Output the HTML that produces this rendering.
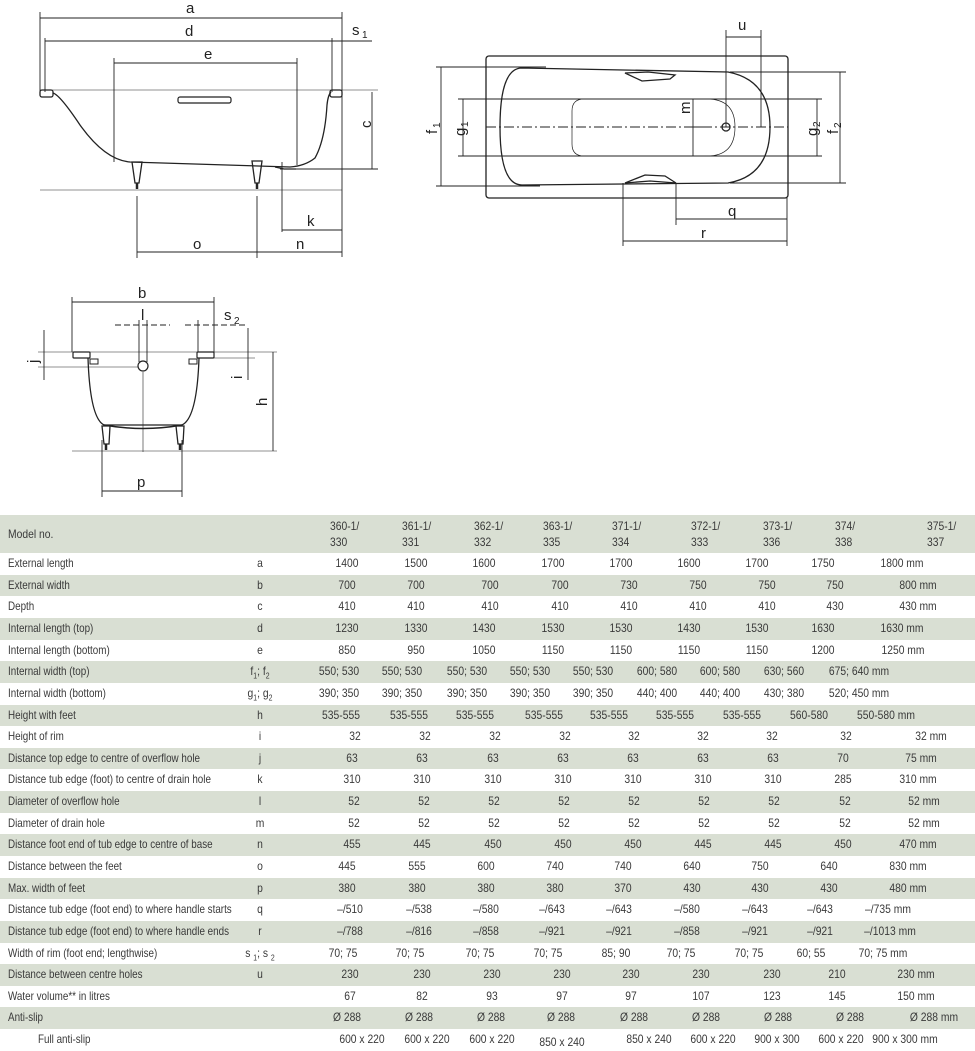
<!DOCTYPE html>
<html><head><meta charset="utf-8">
<style>
body{margin:0;width:975px;height:1048px;background:#fff;position:relative;overflow:hidden;font-family:"Liberation Sans",sans-serif;color:#3a3a3a;}
svg{position:absolute;left:0;top:0}
.r{position:absolute;left:0;width:975px;height:21.64px;font-size:12px;}
.g{background:#d9dfd3;}
.r span{position:absolute;top:3px;white-space:nowrap;transform:translateX(-50%) scaleX(0.86);}
.r .lb{left:8px;transform:scaleX(0.82);transform-origin:0 0;}
.r .lt{left:260px;}
.hd{position:absolute;left:0;top:515px;width:975px;height:38px;background:#d9dfd3;font-size:12px;}
.hd span{position:absolute;white-space:nowrap;line-height:16px;transform:scaleX(0.86);transform-origin:0 0;}
sub{font-size:8px;}
</style></head><body>
<svg width="975" height="515" viewBox="0 0 975 515" font-family="Liberation Sans, sans-serif" fill="none" stroke="#222" stroke-width="0.9">
<g>
<line x1="40" y1="12" x2="40" y2="92"/><line x1="342" y1="12" x2="342" y2="257"/>
<line x1="40" y1="18" x2="342" y2="18"/>
<line x1="45" y1="41" x2="372" y2="41"/>
<line x1="45" y1="38" x2="45" y2="92"/><line x1="332" y1="38" x2="332" y2="92"/>
<line x1="114" y1="63" x2="297" y2="63"/>
<line x1="114" y1="58" x2="114" y2="162"/><line x1="297" y1="58" x2="297" y2="165"/>
<line x1="40" y1="90" x2="378" y2="90" stroke-width="0.6"/>
<rect x="40" y="90" width="13" height="7" rx="2" stroke-width="1.3"/>
<rect x="330" y="90" width="12" height="7" rx="2" stroke-width="1.3"/>
<path d="M53 93 Q60 95 80 125 Q105 160 130 162 L290 167 Q305 166 315 158 Q325 140 327 105 Q328 95 331 92" stroke-width="1.3"/>
<path d="M275 167 L284 169 L296 169" stroke-width="1.2"/>
<rect x="178" y="97" width="53" height="6" rx="2" stroke-width="1.2"/>
<line x1="372" y1="92" x2="372" y2="169"/>
<line x1="280" y1="169" x2="378" y2="169"/>
<line x1="40" y1="190" x2="342" y2="190" stroke-width="0.6"/>
<path d="M132 162 L142 162 L139 183 L135 183 Z M252 161 L262 161 L259 183 L255 183 Z" stroke-width="1.3"/>
<line x1="137" y1="183" x2="137" y2="189" stroke-width="2.5"/><line x1="257" y1="183" x2="257" y2="189" stroke-width="2.5"/>
<line x1="282" y1="162" x2="282" y2="232"/>
<line x1="282" y1="230" x2="342" y2="230"/>
<line x1="137" y1="196" x2="137" y2="258"/><line x1="257" y1="196" x2="257" y2="258"/>
<line x1="137" y1="252" x2="342" y2="252"/>
</g>
<g fill="#222" stroke="none" font-size="15">
<text x="186" y="13">a</text><text x="185" y="36">d</text><text x="204" y="59">e</text>
<text x="352" y="35">s</text><text x="362" y="38" font-size="10">1</text>
<text x="366" y="133" transform="rotate(-90 366 128)">c</text>
<text x="307" y="226">k</text><text x="193" y="249">o</text><text x="296" y="249">n</text>
</g>
<g>
<rect x="486" y="56" width="302" height="142" rx="3" stroke-width="1.3"/>
<path d="M522 68 L728 72 Q770 80 770 127 Q770 176 728 183 L522 185 Q500 185 500 127 Q500 68 522 68 Z" stroke-width="1.3"/>
<path d="M584 99 L707 99 Q735 99 735 127 Q735 156 707 156 L584 156 Q572 156 572 144 L572 111 Q572 99 584 99 Z" stroke-width="0.7"/>
<line x1="486" y1="127" x2="788" y2="127" stroke-dasharray="10 3 2 3"/>
<circle cx="726" cy="127" r="4" stroke-width="1.3"/>
<path d="M625 73 L648 72 L675 75 L670 79 L642 81 Z" stroke-width="1.3"/>
<path d="M625 183 L645 175 L665 176 L676 183 L650 181 Z" stroke-width="1.3"/>
<line x1="436" y1="67" x2="546" y2="67"/><line x1="436" y1="186" x2="540" y2="186"/>
<line x1="441" y1="67" x2="441" y2="186"/>
<line x1="458" y1="99" x2="822" y2="99"/><line x1="458" y1="156" x2="822" y2="156"/>
<line x1="463" y1="99" x2="463" y2="156"/>
<line x1="730" y1="72" x2="846" y2="72"/><line x1="730" y1="183" x2="846" y2="183"/>
<line x1="840" y1="72" x2="840" y2="183"/><line x1="817" y1="99" x2="817" y2="156"/>
<line x1="726" y1="30" x2="726" y2="127"/><line x1="761" y1="30" x2="761" y2="127"/>
<line x1="726" y1="37" x2="761" y2="37"/>
<line x1="693" y1="99" x2="693" y2="156"/><line x1="688" y1="127" x2="712" y2="127"/>
<line x1="676" y1="183" x2="676" y2="225"/><line x1="676" y1="219" x2="787" y2="219"/>
<line x1="623" y1="183" x2="623" y2="246"/><line x1="623" y1="241" x2="787" y2="241"/>
<line x1="787" y1="198" x2="787" y2="246"/>
</g>
<g fill="#222" stroke="none" font-size="15">
<text x="738" y="30">u</text><text x="728" y="216">q</text><text x="701" y="238">r</text>
<g transform="rotate(-90 432 127)"><text x="425" y="132">f</text><text x="431" y="135" font-size="10">1</text></g>
<g transform="rotate(-90 460 127)"><text x="451" y="132">g</text><text x="460" y="135" font-size="10">1</text></g>
<g transform="rotate(-90 812 127)"><text x="803" y="132">g</text><text x="812" y="135" font-size="10">2</text></g>
<g transform="rotate(-90 833 127)"><text x="826" y="132">f</text><text x="832" y="135" font-size="10">2</text></g>
<g transform="rotate(-90 685 108)"><text x="679" y="113">m</text></g>
</g>
<g>
<line x1="72" y1="297" x2="72" y2="352"/><line x1="214" y1="297" x2="214" y2="352"/>
<line x1="72" y1="302" x2="214" y2="302"/>
<line x1="115" y1="325" x2="170" y2="325" stroke-dasharray="6 3"/>
<line x1="185" y1="325" x2="245" y2="325" stroke-dasharray="6 3"/>
<line x1="139" y1="320" x2="139" y2="362"/><line x1="147" y1="320" x2="147" y2="362"/>
<line x1="198" y1="320" x2="198" y2="352"/>
<line x1="38" y1="352" x2="277" y2="352" stroke-width="0.6"/>
<rect x="73" y="352" width="17" height="6" rx="1" stroke-width="1.2"/>
<rect x="197" y="352" width="17" height="6" rx="1" stroke-width="1.2"/>
<circle cx="143" cy="366" r="5" stroke-width="1.2"/>
<rect x="90" y="359" width="8" height="5" stroke-width="1"/><rect x="189" y="359" width="8" height="5" stroke-width="1"/>
<path d="M88 358 Q90 418 104 425 L182 425 Q197 418 199 358" stroke-width="1.3"/>
<path d="M104 425 Q143 432 182 425" stroke-width="1.5"/>
<line x1="38" y1="367" x2="138" y2="367" stroke-width="0.6"/>
<line x1="44" y1="330" x2="44" y2="380"/>
<line x1="200" y1="358" x2="255" y2="358" stroke-width="0.6"/>
<line x1="248" y1="328" x2="248" y2="380"/>
<line x1="273" y1="352" x2="273" y2="451"/>
<line x1="72" y1="451" x2="277" y2="451" stroke-width="0.6"/>
<path d="M102 426 L110 426 L109 444 L104 444 Z M176 426 L184 426 L183 444 L178 444 Z" stroke-width="1.3"/>
<line x1="106" y1="444" x2="106" y2="450" stroke-width="2.5"/><line x1="180" y1="444" x2="180" y2="450" stroke-width="2.5"/>
<line x1="143" y1="372" x2="143" y2="452" stroke-width="0.6"/>
<line x1="102" y1="440" x2="102" y2="497"/><line x1="182" y1="440" x2="182" y2="497"/>
<line x1="102" y1="491" x2="182" y2="491"/>
</g>
<g fill="#222" stroke="none" font-size="15">
<text x="138" y="298">b</text><text x="141" y="320">l</text>
<text x="224" y="320">s</text><text x="234" y="324" font-size="10">2</text>
<text x="258" y="407" transform="rotate(-90 262 402)">h</text>
<text x="137" y="487">p</text>
<text x="30" y="363" transform="rotate(-90 34 359)">j</text>
<text x="235" y="380" transform="rotate(-90 238 376)">i</text>
</g>
</svg>

<div class="hd">
<span style="left:8px;top:11px">Model no.</span>
<span style="left:330px;top:3px">360-1/<br>330</span>
<span style="left:402px;top:3px">361-1/<br>331</span>
<span style="left:474px;top:3px">362-1/<br>332</span>
<span style="left:543px;top:3px">363-1/<br>335</span>
<span style="left:612px;top:3px">371-1/<br>334</span>
<span style="left:691px;top:3px">372-1/<br>333</span>
<span style="left:763px;top:3px">373-1/<br>336</span>
<span style="left:835px;top:3px">374/<br>338</span>
<span style="left:927px;top:3px">375-1/<br>337</span>
</div>

<div class="r" style="top:553px"><span class="lb">External length</span><span class="lt">a</span><span style="left:347px">1400</span><span style="left:416px">1500</span><span style="left:484px">1600</span><span style="left:553px">1700</span><span style="left:621px">1700</span><span style="left:689px">1600</span><span style="left:757px">1700</span><span style="left:823px">1750</span><span style="left:902px">1800 mm</span></div>
<div class="r g" style="top:574.6px"><span class="lb">External width</span><span class="lt">b</span><span style="left:347px">700</span><span style="left:416px">700</span><span style="left:490px">700</span><span style="left:560px">700</span><span style="left:629px">730</span><span style="left:698px">750</span><span style="left:767px">750</span><span style="left:835px">750</span><span style="left:918px">800 mm</span></div>
<div class="r" style="top:596.3px"><span class="lb">Depth</span><span class="lt">c</span><span style="left:347px">410</span><span style="left:416px">410</span><span style="left:490px">410</span><span style="left:560px">410</span><span style="left:629px">410</span><span style="left:698px">410</span><span style="left:767px">410</span><span style="left:835px">430</span><span style="left:918px">430 mm</span></div>
<div class="r g" style="top:617.9px"><span class="lb">Internal length (top)</span><span class="lt">d</span><span style="left:347px">1230</span><span style="left:416px">1330</span><span style="left:484px">1430</span><span style="left:553px">1530</span><span style="left:621px">1530</span><span style="left:689px">1430</span><span style="left:757px">1530</span><span style="left:823px">1630</span><span style="left:902px">1630 mm</span></div>
<div class="r" style="top:639.6px"><span class="lb">Internal length (bottom)</span><span class="lt">e</span><span style="left:347px">850</span><span style="left:416px">950</span><span style="left:484px">1050</span><span style="left:553px">1150</span><span style="left:621px">1150</span><span style="left:689px">1150</span><span style="left:757px">1150</span><span style="left:823px">1200</span><span style="left:903px">1250 mm</span></div>
<div class="r g" style="top:661.2px"><span class="lb">Internal width (top)</span><span class="lt">f<sub>1</sub>; f<sub>2</sub></span><span style="left:339px">550; 530</span><span style="left:402px">550; 530</span><span style="left:467px">550; 530</span><span style="left:530px">550; 530</span><span style="left:593px">550; 530</span><span style="left:657px">600; 580</span><span style="left:720px">600; 580</span><span style="left:784px">630; 560</span><span style="left:859px">675; 640 mm</span></div>
<div class="r" style="top:682.8px"><span class="lb">Internal width (bottom)</span><span class="lt">g<sub>1</sub>; g<sub>2</sub></span><span style="left:339px">390; 350</span><span style="left:402px">390; 350</span><span style="left:467px">390; 350</span><span style="left:530px">390; 350</span><span style="left:593px">390; 350</span><span style="left:657px">440; 400</span><span style="left:720px">440; 400</span><span style="left:784px">430; 380</span><span style="left:859px">520; 450 mm</span></div>
<div class="r g" style="top:704.5px"><span class="lb">Height with feet</span><span class="lt">h</span><span style="left:341px">535-555</span><span style="left:409px">535-555</span><span style="left:475px">535-555</span><span style="left:544px">535-555</span><span style="left:609px">535-555</span><span style="left:675px">535-555</span><span style="left:742px">535-555</span><span style="left:809px">560-580</span><span style="left:886px">550-580 mm</span></div>
<div class="r" style="top:726.1px"><span class="lb">Height of rim</span><span class="lt">i</span><span style="left:355px">32</span><span style="left:425px">32</span><span style="left:495px">32</span><span style="left:565px">32</span><span style="left:634px">32</span><span style="left:703px">32</span><span style="left:772px">32</span><span style="left:846px">32</span><span style="left:931px">32 mm</span></div>
<div class="r g" style="top:747.8px"><span class="lb">Distance top edge to centre of overflow hole</span><span class="lt">j</span><span style="left:352px">63</span><span style="left:422px">63</span><span style="left:493px">63</span><span style="left:563px">63</span><span style="left:633px">63</span><span style="left:703px">63</span><span style="left:773px">63</span><span style="left:843px">70</span><span style="left:921px">75 mm</span></div>
<div class="r" style="top:769.4px"><span class="lb">Distance tub edge (foot) to centre of drain hole</span><span class="lt">k</span><span style="left:352px">310</span><span style="left:422px">310</span><span style="left:493px">310</span><span style="left:563px">310</span><span style="left:633px">310</span><span style="left:703px">310</span><span style="left:773px">310</span><span style="left:843px">285</span><span style="left:918px">310 mm</span></div>
<div class="r g" style="top:791px"><span class="lb">Diameter of overflow hole</span><span class="lt">l</span><span style="left:354px">52</span><span style="left:424px">52</span><span style="left:494px">52</span><span style="left:564px">52</span><span style="left:634px">52</span><span style="left:704px">52</span><span style="left:774px">52</span><span style="left:845px">52</span><span style="left:924px">52 mm</span></div>
<div class="r" style="top:812.7px"><span class="lb">Diameter of drain hole</span><span class="lt">m</span><span style="left:354px">52</span><span style="left:424px">52</span><span style="left:494px">52</span><span style="left:564px">52</span><span style="left:634px">52</span><span style="left:704px">52</span><span style="left:774px">52</span><span style="left:845px">52</span><span style="left:924px">52 mm</span></div>
<div class="r g" style="top:834.3px"><span class="lb">Distance foot end of tub edge to centre of base</span><span class="lt">n</span><span style="left:352px">455</span><span style="left:422px">445</span><span style="left:493px">450</span><span style="left:563px">450</span><span style="left:633px">450</span><span style="left:703px">445</span><span style="left:773px">445</span><span style="left:843px">450</span><span style="left:918px">470 mm</span></div>
<div class="r" style="top:856px"><span class="lb">Distance between the feet</span><span class="lt">o</span><span style="left:347px">445</span><span style="left:417px">555</span><span style="left:486px">600</span><span style="left:555px">740</span><span style="left:623px">740</span><span style="left:692px">640</span><span style="left:760px">750</span><span style="left:829px">640</span><span style="left:908px">830 mm</span></div>
<div class="r g" style="top:877.6px"><span class="lb">Max. width of feet</span><span class="lt">p</span><span style="left:347px">380</span><span style="left:417px">380</span><span style="left:486px">380</span><span style="left:555px">380</span><span style="left:623px">370</span><span style="left:692px">430</span><span style="left:760px">430</span><span style="left:829px">430</span><span style="left:908px">480 mm</span></div>
<div class="r" style="top:899.2px"><span class="lb">Distance tub edge (foot end) to where handle starts</span><span class="lt">q</span><span style="left:350px">–/510</span><span style="left:419px">–/538</span><span style="left:486px">–/580</span><span style="left:552px">–/643</span><span style="left:619px">–/643</span><span style="left:687px">–/580</span><span style="left:755px">–/643</span><span style="left:820px">–/643</span><span style="left:888px">–/735 mm</span></div>
<div class="r g" style="top:920.9px"><span class="lb">Distance tub edge (foot end) to where handle ends</span><span class="lt">r</span><span style="left:350px">–/788</span><span style="left:419px">–/816</span><span style="left:486px">–/858</span><span style="left:552px">–/921</span><span style="left:619px">–/921</span><span style="left:687px">–/858</span><span style="left:755px">–/921</span><span style="left:820px">–/921</span><span style="left:890px">–/1013 mm</span></div>
<div class="r" style="top:942.5px"><span class="lb">Width of rim (foot end; lengthwise)</span><span class="lt">s <sub>1</sub>; s <sub>2</sub></span><span style="left:343px">70; 75</span><span style="left:410px">70; 75</span><span style="left:480px">70; 75</span><span style="left:548px">70; 75</span><span style="left:616px">85; 90</span><span style="left:681px">70; 75</span><span style="left:749px">70; 75</span><span style="left:811px">60; 55</span><span style="left:883px">70; 75 mm</span></div>
<div class="r g" style="top:964.2px"><span class="lb">Distance between centre holes</span><span class="lt">u</span><span style="left:350px">230</span><span style="left:422px">230</span><span style="left:492px">230</span><span style="left:562px">230</span><span style="left:631px">230</span><span style="left:701px">230</span><span style="left:772px">230</span><span style="left:837px">210</span><span style="left:916px">230 mm</span></div>
<div class="r" style="top:985.8px"><span class="lb">Water volume** in litres</span><span style="left:350px">67</span><span style="left:422px">82</span><span style="left:492px">93</span><span style="left:562px">97</span><span style="left:631px">97</span><span style="left:701px">107</span><span style="left:772px">123</span><span style="left:837px">145</span><span style="left:916px">150 mm</span></div>
<div class="r g" style="top:1007.4px"><span class="lb">Anti-slip</span><span style="left:347px">Ø 288</span><span style="left:419px">Ø 288</span><span style="left:491px">Ø 288</span><span style="left:561px">Ø 288</span><span style="left:634px">Ø 288</span><span style="left:706px">Ø 288</span><span style="left:778px">Ø 288</span><span style="left:850px">Ø 288</span><span style="left:934px">Ø 288 mm</span></div>
<div class="r" style="top:1029.1px"><span class="lb" style="left:38px">Full anti-slip</span><span style="left:362px">600 x 220</span><span style="left:427px">600 x 220</span><span style="left:492px">600 x 220</span><span style="left:562px;top:6px">850 x 240</span><span style="left:649px">850 x 240</span><span style="left:713px">600 x 220</span><span style="left:777px">900 x 300</span><span style="left:841px">600 x 220</span><span style="left:905px">900 x 300 mm</span></div>
</body></html>
